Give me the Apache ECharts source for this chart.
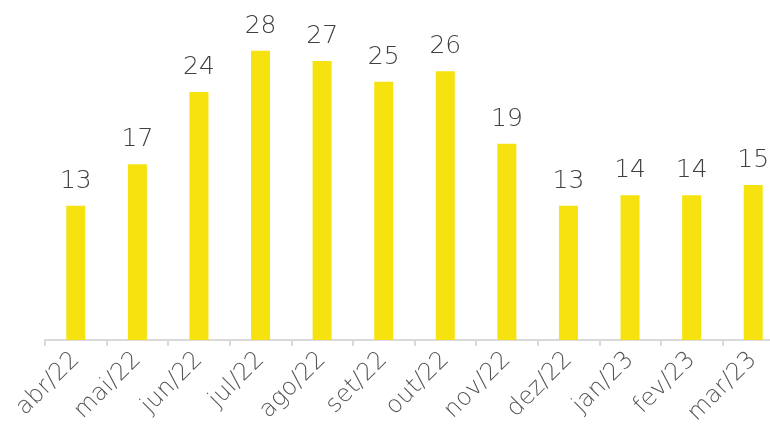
<!DOCTYPE html>
<html>
<head>
<meta charset="utf-8">
<script src="https://cdn.jsdelivr.net/npm/echarts@6/dist/echarts.min.js"></script>
<style>
  html, body { margin: 0; padding: 0; background: #fff; }
  #chart { width: 770px; height: 430px; }
</style>
</head>
<body>
<div id="chart"></div>
<script>
const months = ['abr/22', 'mai/22', 'jun/22', 'jul/22', 'ago/22', 'set/22',
                'out/22', 'nov/22', 'dez/22', 'jan/23', 'fev/23', 'mar/23'];
const values = [13, 17, 24, 28, 27, 25, 26, 19, 13, 14, 14, 15];

const chart = echarts.init(document.getElementById('chart'));
chart.setOption({
  animation: false,
  grid: {
    left: 45,
    right: -14,   // last band runs off the right edge, as in the original
    top: 30,
    bottom: 90,
    outerBoundsMode: 'none'
  },
  xAxis: {
    type: 'category',
    data: months,
    axisLine: { lineStyle: { color: '#d9d9d9', width: 2 } },
    axisTick: { show: true, length: 6, lineStyle: { color: '#d9d9d9', width: 2 } },
    axisLabel: {
      rotate: 45,
      margin: 16,
      color: '#555555',
      fontSize: 24,
      fontFamily: 'DejaVu Sans',
      fontWeight: 200
    }
  },
  yAxis: {
    type: 'value',
    min: 0,
    max: 30,
    show: false,
    splitLine: { show: false }
  },
  series: [
    {
      type: 'bar',
      data: values,
      barWidth: 19,
      itemStyle: { color: '#F6E20E' },
      label: {
        show: true,
        position: 'top',
        distance: 12,
        color: '#404040',
        fontSize: 25,
        fontFamily: 'DejaVu Sans',
        fontWeight: 200
      }
    }
  ]
});
</script>
</body>
</html>
